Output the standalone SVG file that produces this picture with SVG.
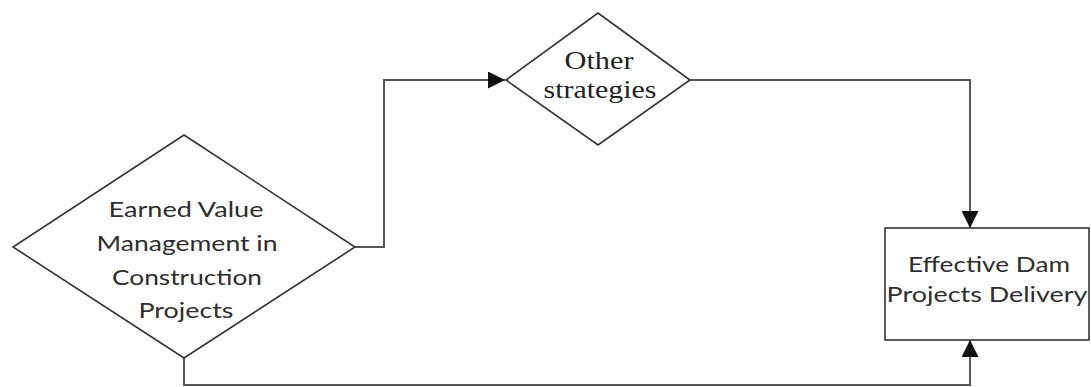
<svg xmlns="http://www.w3.org/2000/svg" width="1091" height="387" viewBox="0 0 1091 387">
  <defs>
    <marker id="arrow" viewBox="0 0 10 10" refX="10" refY="5" markerWidth="17" markerHeight="17" markerUnits="userSpaceOnUse" orient="auto">
      <path d="M0,0 L10,5 L0,10 Z" fill="#111"/>
    </marker>
  </defs>
  <style>
    .shape { fill: #fff; stroke: #333; stroke-width: 1.6; }
    .link { fill: none; stroke: #555; stroke-width: 2; }
    .sans { font-family: Lato, "Open Sans", "Liberation Sans", sans-serif; font-size: 22px; fill: #2e2e2e; text-anchor: middle; }
    .serif { font-family: "Liberation Serif", "Times New Roman", serif; font-size: 26px; fill: #222; text-anchor: middle; }
  </style>
  <rect width="1091" height="387" fill="#fff"/>

  <g id="connectors">
    <polyline class="link" points="355,247 384,247 384,80 505,80" marker-end="url(#arrow)"/>
    <polyline class="link" points="690,80 970,80 970,228" marker-end="url(#arrow)"/>
    <polyline class="link" points="184,358 184,385 970,385 970,340" marker-end="url(#arrow)"/>
  </g>

  <g id="evm">
    <polygon class="shape" points="184,135 355,247 184,358 13,247"/>
    <text class="sans" x="186" y="217" textLength="155" lengthAdjust="spacingAndGlyphs">Earned Value</text>
    <text class="sans" x="187" y="251" textLength="181" lengthAdjust="spacingAndGlyphs">Management in</text>
    <text class="sans" x="187" y="285" textLength="150" lengthAdjust="spacingAndGlyphs">Construction</text>
    <text class="sans" x="186" y="318" textLength="95" lengthAdjust="spacingAndGlyphs">Projects</text>
  </g>

  <g id="other">
    <polygon class="shape" points="598,13 690,80 598,145 506,80"/>
    <text class="serif" x="599" y="69" textLength="69" lengthAdjust="spacingAndGlyphs">Other</text>
    <text class="serif" x="600" y="98" textLength="113" lengthAdjust="spacingAndGlyphs">strategies</text>
  </g>

  <g id="delivery">
    <rect class="shape" x="885" y="228" width="204" height="112"/>
    <text class="sans" x="989" y="272" textLength="162" lengthAdjust="spacingAndGlyphs">Effective Dam</text>
    <text class="sans" x="987" y="302" textLength="201" lengthAdjust="spacingAndGlyphs">Projects Delivery</text>
  </g>
</svg>
